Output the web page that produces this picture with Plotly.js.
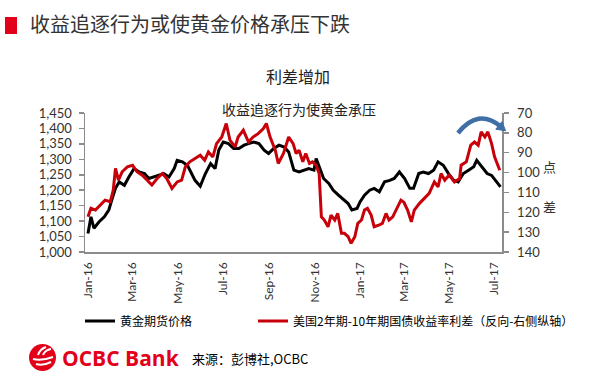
<!DOCTYPE html>
<html><head><meta charset="utf-8">
<script src="https://cdn.plot.ly/plotly-3.0.1.min.js"></script>
<style>html,body{margin:0;padding:0;background:#fff}#chart{width:600px;height:380px}</style>
</head><body><div id="chart"></div>
<script>
const goldDates = ['2016-01-01','2016-01-05','2016-01-09','2016-01-16','2016-01-23','2016-01-29','2016-02-02','2016-02-07','2016-02-12','2016-02-19','2016-02-25','2016-03-03','2016-03-10','2016-03-17','2016-03-23','2016-03-30','2016-04-06','2016-04-12','2016-04-19','2016-04-26','2016-04-30','2016-05-07','2016-05-14','2016-05-20','2016-05-24','2016-05-31','2016-06-07','2016-06-14','2016-06-20','2016-06-25','2016-07-01','2016-07-08','2016-07-15','2016-07-22','2016-07-29','2016-08-04','2016-08-11','2016-08-18','2016-08-25','2016-08-31','2016-09-07','2016-09-14','2016-09-21','2016-09-27','2016-10-04','2016-10-11','2016-10-17','2016-10-24','2016-10-31','2016-11-03','2016-11-08','2016-11-13','2016-11-20','2016-11-26','2016-12-03','2016-12-10','2016-12-16','2016-12-21','2016-12-28','2017-01-01','2017-01-07','2017-01-14','2017-01-20','2017-01-27','2017-02-03','2017-02-10','2017-02-16','2017-02-23','2017-03-02','2017-03-09','2017-03-14','2017-03-21','2017-03-27','2017-04-03','2017-04-10','2017-04-16','2017-04-23','2017-04-30','2017-05-07','2017-05-13','2017-05-20','2017-05-27','2017-06-03','2017-06-07','2017-06-14','2017-06-21','2017-06-27','2017-07-04','2017-07-09'];
const goldPrice = [1060,1114,1077,1098,1114,1136,1168,1206,1227,1216,1243,1270,1259,1254,1238,1243,1248,1254,1243,1270,1297,1292,1280,1250,1232,1213,1254,1286,1270,1330,1356,1351,1335,1335,1346,1351,1356,1351,1330,1319,1335,1346,1340,1324,1265,1259,1265,1270,1265,1303,1270,1238,1222,1200,1184,1168,1157,1136,1141,1162,1184,1200,1206,1195,1227,1232,1238,1259,1238,1206,1206,1254,1259,1254,1265,1292,1281,1254,1232,1227,1254,1265,1276,1297,1276,1254,1248,1227,1211];
const spreadDates = ['2016-01-01','2016-01-05','2016-01-11','2016-01-18','2016-01-24','2016-01-31','2016-02-04','2016-02-07','2016-02-11','2016-02-16','2016-02-23','2016-03-01','2016-03-07','2016-03-14','2016-03-21','2016-03-27','2016-04-03','2016-04-10','2016-04-16','2016-04-23','2016-04-30','2016-05-06','2016-05-11','2016-05-17','2016-05-24','2016-05-31','2016-06-06','2016-06-11','2016-06-17','2016-06-22','2016-06-29','2016-07-05','2016-07-10','2016-07-17','2016-07-21','2016-07-28','2016-08-04','2016-08-10','2016-08-17','2016-08-24','2016-08-28','2016-09-02','2016-09-09','2016-09-13','2016-09-20','2016-09-27','2016-10-03','2016-10-07','2016-10-11','2016-10-16','2016-10-20','2016-10-25','2016-10-29','2016-11-03','2016-11-07','2016-11-10','2016-11-14','2016-11-19','2016-11-23','2016-11-28','2016-12-02','2016-12-07','2016-12-11','2016-12-16','2016-12-20','2016-12-25','2016-12-29','2017-01-03','2017-01-07','2017-01-11','2017-01-16','2017-01-20','2017-01-27','2017-01-31','2017-02-05','2017-02-09','2017-02-14','2017-02-18','2017-02-25','2017-03-01','2017-03-06','2017-03-11','2017-03-15','2017-03-22','2017-03-29','2017-04-04','2017-04-11','2017-04-16','2017-04-20','2017-04-25','2017-05-01','2017-05-08','2017-05-15','2017-05-17','2017-05-24','2017-05-30','2017-06-04','2017-06-09','2017-06-13','2017-06-18','2017-06-22','2017-06-27','2017-07-01','2017-07-05','2017-07-08'];
const spreadBp = [122.3,118.0,118.9,116.4,113.9,114.7,108.8,97.9,103.8,99.6,97.1,96.3,99.6,101.3,103.8,106.3,103.0,100.5,103.0,108.0,104.7,103.8,97.1,94.6,92.9,91.3,93.8,89.6,92.1,85.4,82.1,75.3,83.7,87.1,82.1,78.7,84.6,82.1,80.4,77.8,75.3,82.1,88.7,95.4,90.4,82.1,85.4,90.4,88.7,94.6,90.4,95.4,94.6,96.3,100.5,122.3,123.9,127.3,121.4,123.9,120.6,130.6,130.6,132.3,135.6,132.3,125.6,123.9,118.9,118.0,121.4,127.3,126.4,125.6,120.6,123.9,122.3,118.9,113.9,115.0,118.9,124.8,118.9,115.5,113.0,110.5,104.7,107.2,100.5,103.8,101.3,104.7,103.0,96.3,94.6,86.2,84.6,86.2,79.5,82.1,79.5,85.4,92.1,96.3,98.8];
const tickDates = ['2016-01-01','2016-03-01','2016-05-01','2016-07-01','2016-09-01','2016-11-01','2017-01-01','2017-03-01','2017-05-01','2017-07-01'];
const tickLabels = ['Jan-16','Mar-16','May-16','Jul-16','Sep-16','Nov-16','Jan-17','Mar-17','May-17','Jul-17'];
const goldTicks = [1000,1050,1100,1150,1200,1250,1300,1350,1400,1450];
const spreadTicks = [70,80,90,100,110,120,130,140];
const goldName = '黄金期货价格';
const spreadName = '美国2年期-10年期国债收益率利差（反向-右侧纵轴）';

// layout helpers: pixel -> paper coordinates
const L = 85, R = 502, T = 113, B = 252;
const PX = x => (x - L) / (R - L);
const PY = y => (B - y) / (B - T);

const tickFont = {family: 'Lato, "Liberation Sans", sans-serif', size: 13, color: '#333'};
const cjk = '"Noto Sans CJK SC", sans-serif';

const traces = [
  {x: goldDates, y: goldPrice, name: goldName, type: 'scatter', mode: 'lines',
   line: {color: '#000000', width: 3}, yaxis: 'y', legend: 'legend'},
  {x: spreadDates, y: spreadBp, name: spreadName, type: 'scatter', mode: 'lines',
   line: {color: '#c8000a', width: 3}, yaxis: 'y2', legend: 'legend2'}
];

const arc = `M${PX(458)},${PY(133)} Q${PX(478)},${PY(108)} ${PX(500)},${PY(126)}`;
const head = `M${PX(505.6)},${PY(130.8)} L${PX(495.8)},${PY(129.2)} L${PX(502)},${PY(121.6)} Z`;

const legendBase = {orientation: 'h', yanchor: 'middle', y: PY(321), xanchor: 'left',
  font: {family: cjk, size: 12, color: '#000'}, itemwidth: 30, bgcolor: 'rgba(0,0,0,0)'};

const ann = (text, x, y, size, color, family, xanchor) => ({
  text, xref: 'paper', yref: 'paper', x: PX(x), y: PY(y), showarrow: false,
  xanchor: xanchor || 'center', yanchor: 'middle', font: {family: family || cjk, size, color}
});

const layout = {
  width: 600, height: 380,
  margin: {l: L, r: 600 - R, t: T, b: 380 - B, pad: 0},
  paper_bgcolor: '#fff', plot_bgcolor: '#fff',
  showlegend: true,
  title: {text: '收益追逐行为或使黄金价格承压下跌', x: 30/600, xanchor: 'left', xref: 'container',
          y: 1 - 25/380, yanchor: 'middle', yref: 'container',
          font: {family: cjk, size: 20, color: '#333'}},
  xaxis: {type: 'date', range: ['2015-12-28', '2017-07-11'], tickvals: tickDates, ticktext: tickLabels,
          tickangle: -90, tickfont: {family: 'Lato, "Liberation Sans", sans-serif', size: 12, color: '#333'},
          showgrid: false, zeroline: false, showline: true, linecolor: '#8c8c8c', linewidth: 1.5,
          ticks: '', ticklabelstandoff: 4, fixedrange: true},
  yaxis: {range: [1000, 1450], tickvals: goldTicks, tickformat: ',d', tickfont: tickFont,
          showgrid: false, zeroline: false, showline: true, linecolor: '#8c8c8c', linewidth: 1.5,
          ticks: 'outside', ticklen: 5, tickcolor: '#8c8c8c', tickwidth: 1.5, ticklabelstandoff: 4},
  yaxis2: {range: [140, 70], tickvals: spreadTicks, overlaying: 'y', side: 'right', anchor: 'x',
           tickfont: tickFont, showgrid: false, zeroline: false, showline: true, linecolor: '#8c8c8c',
           linewidth: 1.5, ticks: 'outside', ticklen: 5, tickcolor: '#8c8c8c', tickwidth: 1.5, ticklabelstandoff: 6},
  legend: Object.assign({}, legendBase, {x: PX(80)}),
  legend2: Object.assign({}, legendBase, {x: PX(253)}),
  shapes: [
    {type: 'rect', xref: 'paper', yref: 'paper', x0: PX(5), x1: PX(17), y0: PY(34), y1: PY(17),
     fillcolor: '#e2001a', line: {width: 0}},
    {type: 'path', xref: 'paper', yref: 'paper', path: arc, line: {color: '#3f6fa6', width: 4.5}},
    {type: 'path', xref: 'paper', yref: 'paper', path: head, fillcolor: '#3f6fa6', line: {color: '#3f6fa6', width: 1}},
    // OCBC logo
    {type: 'circle', xref: 'paper', yref: 'paper', x0: PX(29), x1: PX(56), y0: PY(371), y1: PY(344),
     fillcolor: '#e2001a', line: {width: 0}},
    {type: 'path', xref: 'paper', yref: 'paper',
     path: `M${PX(33)},${PY(359)} Q${PX(42)},${PY(361)} ${PX(53)},${PY(357)}`, line: {color: '#fff', width: 2}},
    {type: 'path', xref: 'paper', yref: 'paper',
     path: `M${PX(36)},${PY(364)} Q${PX(43)},${PY(366)} ${PX(51)},${PY(362)}`, line: {color: '#fff', width: 2}},
    {type: 'path', xref: 'paper', yref: 'paper',
     path: `M${PX(38)},${PY(355)} Q${PX(40)},${PY(349)} ${PX(46)},${PY(347)}`, line: {color: '#fff', width: 2}},
    {type: 'path', xref: 'paper', yref: 'paper',
     path: `M${PX(43)},${PY(355)} Q${PX(45)},${PY(350)} ${PX(51)},${PY(349)}`, line: {color: '#fff', width: 2}}
  ],
  annotations: [
    ann('利差增加', 298, 76, 16, '#222'),
    ann('收益追逐行为使黄金承压', 299, 109, 14, '#222'),
    ann('点', 549, 166, 13, '#333'),
    ann('差', 549, 206, 13, '#333'),
    ann('<b>OCBC Bank</b>', 60, 358, 21, '#e2001a', '"Open Sans", sans-serif', 'left'),
    ann('来源：彭博社,OCBC', 190, 358, 13, '#000', cjk, 'left')
  ]
};

Plotly.newPlot('chart', traces, layout, {staticPlot: true, displayModeBar: false});
</script>
</body></html>
